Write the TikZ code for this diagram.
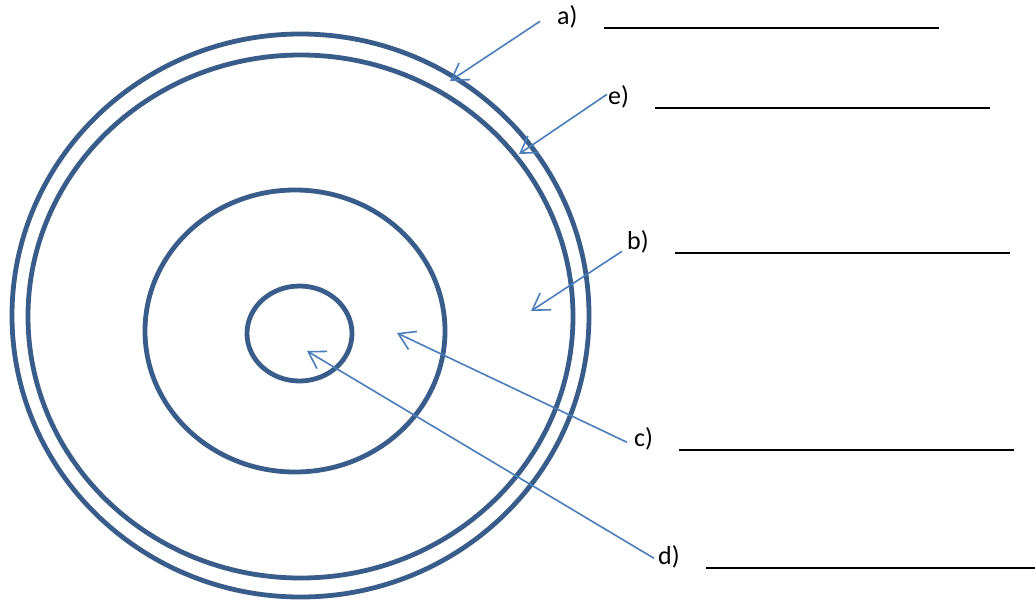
\documentclass[tikz,border=0pt]{standalone}
\usepackage{fontspec}
\setmainfont{Carlito}
\usetikzlibrary{positioning}
\usetikzlibrary{arrows.meta}
\definecolor{ringblue}{RGB}{56,93,138}
\definecolor{pointerblue}{RGB}{74,126,187}

\begin{document}
\begin{tikzpicture}[
    x=1pt, y=-1pt, % one unit per pixel, y running down
    ring/.style={
        draw=ringblue,
        line width=4.8pt
    },
    tag/.style={
        inner sep=0pt,
        anchor=base west,
        font=\fontsize{26}{30}\selectfont
    },
    pointer/.style={
        draw=pointerblue,
        line width=1.6pt,
        -{Straight Barb[length=16pt,width=20pt]}
    },
    blank/.style={
        line width=2pt
    }
]
    \useasboundingbox (0,0) rectangle (1035,600);

    % --- Rings, from the outside in ---
    \draw[ring] (300.5,315.5) ellipse [x radius=288.5, y radius=281.5];
    \draw[ring] (300.5,316.5) ellipse [x radius=272.5, y radius=261.5];
    \draw[ring] (295,331)     ellipse [x radius=150, y radius=141];
    \draw[ring] (299.5,333.5) ellipse [x radius=52.5, y radius=47.5];

    % --- Labels with their blank answer lines ---
    \node[tag] (lblA) at (557,24)  {a)};
    \node[tag] (lblE) at (608,104) {e)};
    \node[tag] (lblB) at (627,249) {b)};
    \node[tag] (lblC) at (634,446) {c)};
    \node[tag] (lblD) at (658,564) {d)};

    \draw[blank] ([shift={(26,4)}]lblA.base east) -- ++(335,0);
    \draw[blank] ([shift={(26,4)}]lblE.base east) -- ++(335,0);
    \draw[blank] ([shift={(26,4)}]lblB.base east) -- ++(335,0);
    \draw[blank] ([shift={(26,4)}]lblC.base east) -- ++(335,0);
    \draw[blank] ([shift={(26,4)}]lblD.base east) -- ++(335,0);

    % --- Points that the arrows mark ---
    \coordinate (tipA) at (450,81);
    \coordinate (tipE) at (519,154);
    \coordinate (tipB) at (531,311);
    \coordinate (tipC) at (397,333);
    \coordinate (tipD) at (307,351);

    \draw[pointer] ([shift={(-17,5)}]lblA.west)  -- (tipA);
    \draw[pointer] ([shift={(-1,-2)}]lblE.west)  -- (tipE);
    \draw[pointer] ([shift={(-5,10)}]lblB.west)  -- (tipB);
    \draw[pointer] ([shift={(-7,4)}]lblC.west)   -- (tipC);
    \draw[pointer] ([shift={(-4,2)}]lblD.west)   -- (tipD);
\end{tikzpicture}
\end{document}
